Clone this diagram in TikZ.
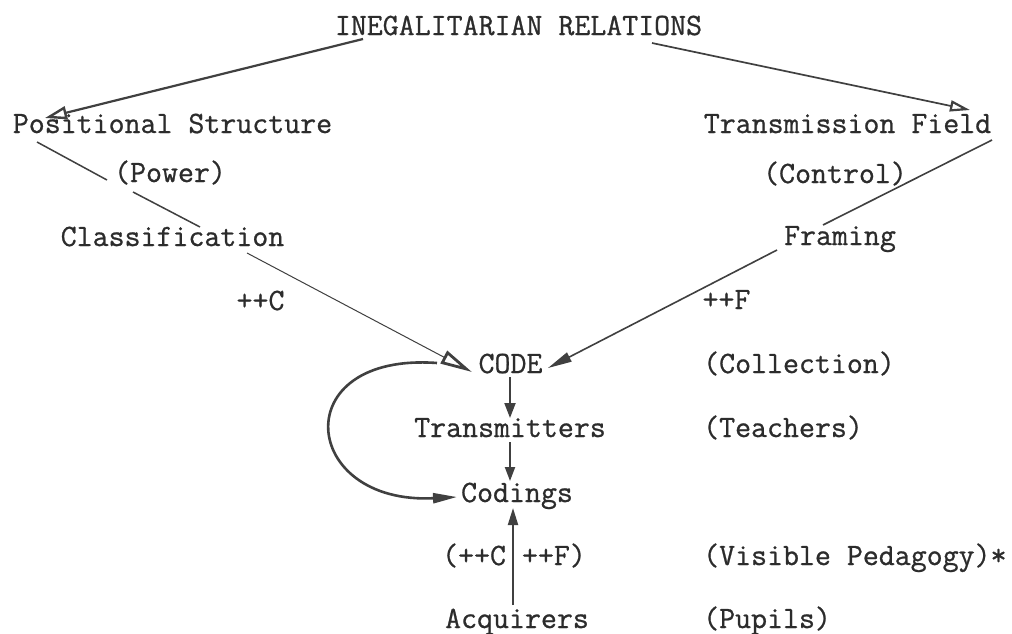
\documentclass[tikz,border=0pt]{standalone}
\usepackage{fontspec}
\newfontfamily\twfont[FakeBold=0.8]{Latin Modern Mono}
\usetikzlibrary{arrows.meta}
\definecolor{ink}{HTML}{2c2c2c}
\definecolor{lineink}{HTML}{404040}
\tikzset{
  lbl/.style={inner sep=0pt, anchor=base, text=ink, font=\twfont\fontsize{31}{36}\selectfont},
  lblw/.style={lbl, anchor=base west},
  conn/.style={draw=lineink, line width=1.6pt},
  openhead/.style={-{Triangle[open, length=22pt, width=13pt, line width=2.4pt]}},
}
\begin{document}
\begin{tikzpicture}[x=1pt, y=-1pt]
\fill[white] (0,0) rectangle (1012,633);
\useasboundingbox (0,0) rectangle (1012,633);

\node[lbl] (title) at (518.5,35) {INEGALITARIAN RELATIONS};
\node[lbl] (ps) at (172.5,133) {Positional Structure};
\node[lbl] (tf) at (847.5,133) {Transmission Field};
\node[lbl] (power) at (170,182) {(Power)};
\node[lbl] (control) at (835,183) {(Control)};
\node[lbl] (class) at (172.5,246) {Classification};
\node[lbl] (framing) at (840,245) {Framing};
\node[lbl] (pc) at (260.5,310) {++C};
\node[lbl] (pf) at (726.5,309) {++F};
\node[lbl] (code) at (510.5,373) {CODE};
\node[lblw] (coll) at (703,373) {(Collection)};
\node[lbl] (trans) at (510,437) {Transmitters};
\node[lblw] (teach) at (703,437) {(Teachers)};
\node[lbl] (codings) at (517,502) {Codings};
\node[lbl] (ccff) at (514,565) {(++C ++F)};
\node[lblw] (vis) at (703,565) {(Visible Pedagogy)*};
\node[lbl] (acq) at (517,628) {Acquirers};
\node[lblw] (pupils) at (703,628) {(Pupils)};

% top arrows
\draw[conn, line width=2.2pt, openhead] ([shift={(-155.5,4)}]title.base) -- ([shift={(-127.5,-15)}]ps.base);
\draw[conn, line width=1.7pt, -{Triangle[open, length=20pt, width=11pt, line width=2.2pt]}]
  ([shift={(133.5,8)}]title.base) -- ([shift={(122.5,-23)}]tf.base);

% left chain
\draw[conn, line width=1.5pt] ([shift={(-135.5,9)}]ps.base) -- ([shift={(-63,-2)}]power.base);
\draw[conn, line width=1.5pt] ([shift={(-37,10)}]power.base) -- ([shift={(27.5,-19)}]class.base);
\draw[conn, line width=1pt, -{Triangle[open, length=32pt, width=14pt, line width=2.8pt]}]
  ([shift={(74.5,7)}]class.base) -- ([shift={(-38.5,-1)}]code.base);

% right chain
\draw[conn, line width=1.6pt] ([shift={(144.5,7)}]tf.base) -- ([shift={(-17,-20)}]framing.base);
\draw[conn, line width=1.6pt, -{Triangle[length=24pt, width=10pt]}]
  ([shift={(-63,5)}]framing.base) -- ([shift={(37.5,-5)}]code.base);

% vertical chain
\draw[conn, line width=2pt, -{Triangle[length=15pt, width=11pt]}] ([shift={(-0.5,4)}]code.base) -- ([shift={(0,-19)}]trans.base);
\draw[conn, line width=2pt, -{Triangle[length=14pt, width=10pt]}] ([shift={(0,5)}]trans.base) -- ([shift={(-7,-21)}]codings.base);
\draw[conn, line width=2pt, -{Triangle[length=17pt, width=10pt]}] ([shift={(-4,-23)}]acq.base) -- ([shift={(-4,6)}]codings.base);

% loop
\draw[conn, line width=2.6pt, -{Triangle[length=24pt, width=10pt]}]
  ([shift={(-73.5,-10)}]code.base) .. controls (285,352) and (300,505) .. ([shift={(-60,-5)}]codings.base);
\end{tikzpicture}
\end{document}
